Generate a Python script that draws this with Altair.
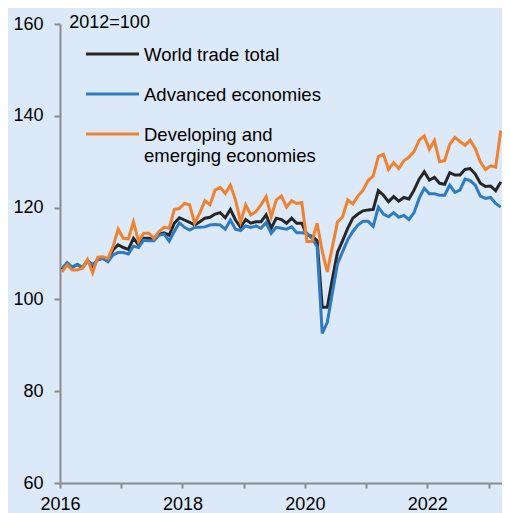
import altair as alt
import pandas as pd

# monthly observations, Jan 2016 .. Mar 2023 (index 2012=100)
world = [106.5,107.8,107.0,107.6,106.9,108.5,107.2,108.7,109.0,108.7,110.8,111.9,
         111.3,110.9,113.3,111.9,113.3,113.3,113.1,114.2,114.5,114.0,116.6,117.8,
         117.3,116.8,116.2,116.9,117.7,117.9,118.6,118.9,117.8,119.6,117.3,115.7,
         117.4,116.6,116.9,116.9,118.4,115.5,117.7,117.4,116.6,117.7,116.6,116.6,
         114.0,113.8,112.8,98.3,98.3,104.5,110.3,112.8,115.5,117.7,118.6,119.3,
         119.5,119.6,123.7,122.7,121.3,122.4,121.4,122.2,121.9,123.8,126.2,127.8,
         126.0,126.6,125.3,125.1,127.6,127.1,127.1,128.3,128.5,127.3,125.3,124.6,
         124.7,123.7,125.6]
advanced = [106.8,108.0,107.0,107.6,106.9,108.4,107.6,108.6,108.9,108.2,109.7,110.2,
            110.2,109.9,111.6,111.3,112.9,112.8,112.8,114.0,114.2,112.7,114.8,116.7,
            115.7,115.1,115.7,115.7,115.8,116.2,116.3,116.2,115.3,117.3,115.3,115.0,
            116.0,115.7,116.0,115.5,116.7,114.4,115.7,115.5,115.3,115.8,114.5,114.5,
            114.4,113.3,111.5,92.6,95.0,101.5,107.8,110.4,113.0,114.8,116.2,117.0,
            117.0,115.9,120.1,118.6,118.0,118.9,117.9,118.3,117.4,118.9,122.0,124.2,
            123.0,123.0,122.7,122.7,124.9,123.3,123.8,126.2,125.9,124.9,122.5,122.0,
            122.2,120.9,120.1]
developing = [106.0,107.5,106.4,106.4,106.8,108.7,105.8,109.2,109.3,108.9,111.5,115.3,
              113.3,113.2,116.9,112.6,114.4,114.4,113.3,114.8,115.7,115.5,119.6,119.8,
              120.9,120.6,116.6,118.8,121.5,120.6,123.8,124.4,123.1,124.9,121.7,116.9,
              120.6,118.4,119.1,120.6,122.4,118.0,121.7,122.5,120.1,121.5,120.9,121.1,
              112.6,112.6,116.6,110.5,106.0,111.5,116.9,118.0,121.7,120.8,122.5,123.8,
              125.9,126.9,131.1,131.6,128.3,129.8,128.5,130.2,131.0,132.2,134.7,135.6,
              132.7,134.6,130.0,130.2,133.8,135.3,134.4,133.6,134.7,132.9,130.0,128.3,
              129.1,128.8,136.8]

series_names = ["World trade total", "Advanced economies", "Developing and\nemerging economies"]
series_cols = ["world", "advanced", "developing"]
series_colors = ["#262626", "#2f7bc1", "#f0822f"]
year_ticks = list(range(2016, 2024))
y_ticks = [60, 80, 100, 120, 140, 160]
note = "2012=100"

n = len(world)
df = pd.DataFrame({
    "t": [2016 + (m + 0.4) / 12 for m in range(n)],
    "world": world,
    "advanced": advanced,
    "developing": developing,
})

FONT = "Liberation Sans"

xscale = alt.Scale(domain=[2016, 2023.22], nice=False, zero=False)
yscale = alt.Scale(domain=[60, 160], nice=False, zero=False)

xaxis = alt.Axis(values=year_ticks, labelExpr="datum.value % 2 == 0 ? toString(datum.value) : ''",
                 title=None, grid=False, tickSize=5, labelPadding=7, labelFlush=False,
                 labelOverlap=False)
yaxis = alt.Axis(values=y_ticks, title=None, grid=False, tickSize=6, labelPadding=11,
                 labelOverlap=False)

base = alt.Chart(df)
layers = []
for col, color in zip(series_cols, series_colors):
    layers.append(base.mark_line(color=color, strokeWidth=3, clip=True).encode(
        x=alt.X("t:Q", scale=xscale, axis=xaxis),
        y=alt.Y(f"{col}:Q", scale=yscale, axis=yaxis),
    ))

# legend drawn inside the plot
leg_y = [30, 70, 110]
for name, color, yy in zip(series_names, series_colors, leg_y):
    ldf = pd.DataFrame({"label": [name]})
    layers.append(alt.Chart(ldf).mark_rule(color=color, strokeWidth=3).encode(
        x=alt.value(26), x2=alt.value(79), y=alt.value(yy)))
    layers.append(alt.Chart(ldf).mark_text(
        align="left", baseline="alphabetic", font=FONT, fontSize=18.5, color="#000000",
        lineBreak="\n", lineHeight=21).encode(
        text="label:N", x=alt.value(84), y=alt.value(yy + 6.7)))

ndf = pd.DataFrame({"label": [note]})
layers.append(alt.Chart(ndf).mark_text(
    align="left", baseline="alphabetic", font=FONT, fontSize=18, color="#000000").encode(
    text="label:N", x=alt.value(9.3), y=alt.value(4.3)))

chart = alt.layer(*layers).properties(
    width=442, height=459,
    padding={"left": 52, "top": 16, "right": 0, "bottom": 30},
    autosize=alt.AutoSizeParams(type="none"),
    background="#dce9f8",
).configure_view(stroke=None).configure_axis(
    domainColor="#8c8c8c", domainWidth=2, tickColor="#8c8c8c", tickWidth=2,
    labelFont=FONT, labelFontSize=18, labelColor="#000000",
)

chart.save("out.html", embed_options={"renderer": "svg", "actions": False})
